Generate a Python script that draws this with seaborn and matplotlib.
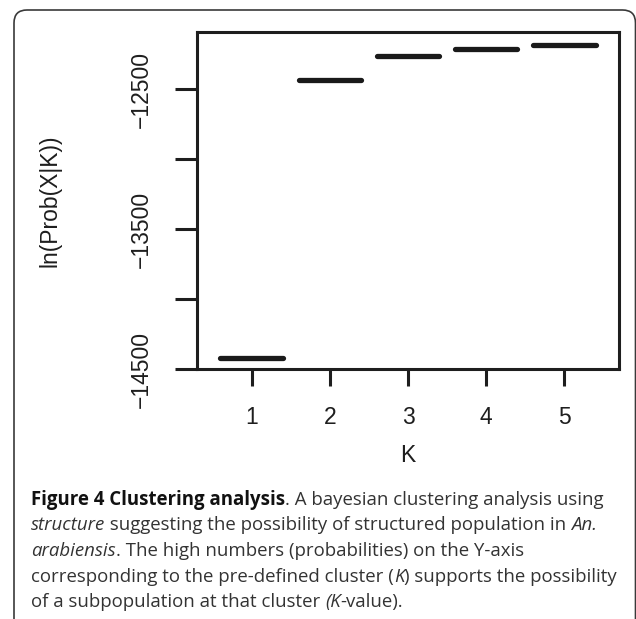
"""
Clustering analysis figure: ln(Prob(X|K)) for each K from a STRUCTURE run,
drawn as R-style boxplots (one value per K), with the figure caption below.
"""

import numpy as np
import pandas as pd
import matplotlib
matplotlib.use("Agg")
import matplotlib.pyplot as plt
from matplotlib.patches import FancyBboxPatch
from matplotlib.transforms import IdentityTransform
import seaborn as sns

# Data
k_values = ["1", "2", "3", "4", "5"]
ln_prob = [-14420, -12431, -12264, -12214, -12184]

y_ticks = [-14500, -14000, -13500, -13000, -12500]
y_tick_labels = ["\u221214500", "", "\u221213500", "", "\u221212500"]

caption_lines = [
    [("Figure 4 Clustering analysis", "bold"), (". A bayesian clustering analysis using", "normal")],
    [("structure", "italic"), (" suggesting the possibility of structured population in ", "normal"),
     ("An.", "italic")],
    [("arabiensis", "italic"), (". The high numbers (probabilities) on the Y-axis", "normal")],
    [("corresponding to the pre-defined cluster (", "normal"), ("K", "italic"),
     (") supports the possibility", "normal")],
    [("of a subpopulation at that cluster ", "normal"), ("(K", "italic"), ("-value).", "normal")],
]

W, H = 636, 619

sns.set_theme(style="white")
plt.rcParams["font.family"] = ["Liberation Sans", "DejaVu Sans"]

fig = plt.figure(figsize=(W / 100, H / 100), dpi=100)
fig.patch.set_facecolor("white")

# rounded frame around the whole figure (cut off at the bottom)
frame = FancyBboxPatch((14, -40), 621.5, H - 10 + 40,
                       boxstyle="round,pad=0,rounding_size=13",
                       transform=IdentityTransform(), fill=False,
                       edgecolor="#3a3a3a", linewidth=1.2)
fig.add_artist(frame)

ax = fig.add_axes([197 / W, 1 - 369 / H, 422 / W, 337 / H])

df = pd.DataFrame({"K": k_values, "lnprob": ln_prob})
sns.boxplot(data=df, x="K", y="lnprob", ax=ax, width=0.8,
            color="white", showfliers=False,
            boxprops=dict(linewidth=0),
            whiskerprops=dict(linewidth=0),
            capprops=dict(linewidth=0),
            medianprops=dict(color="#1a1a1a", linewidth=3.8, solid_capstyle="round"))

ax.set_xlim(-0.7, 4.7)
ax.set_ylim(-14500, -12091)
ax.set_yticks(y_ticks)
ax.set_yticklabels(y_tick_labels, rotation=90, va="center")

for side in ["left", "right", "top", "bottom"]:
    ax.spines[side].set_visible(True)
    ax.spines[side].set_linewidth(2.2)
    ax.spines[side].set_color("#1e1e1e")

ax.tick_params(axis="y", left=True, length=15.8, width=2.2, color="#1e1e1e",
               labelsize=16.5, pad=16, labelcolor="#1e1e1e")
ax.tick_params(axis="x", bottom=True, length=12.2, width=2.2, color="#1e1e1e",
               labelsize=16.5, pad=14.5, labelcolor="#1e1e1e")

ax.set_xlabel("K", fontsize=16.5, color="#1e1e1e")
ax.set_ylabel("ln(Prob(X|K))", fontsize=16.5, color="#1e1e1e")
ax.xaxis.set_label_coords(0.5, -0.222)
ax.yaxis.set_label_coords(-0.32, 0.5)

# caption, drawn run by run so bold / italic parts sit inline
renderer = fig.canvas.get_renderer()
baselines = [505, 530.5, 556, 581.5, 607]
for line, yb in zip(caption_lines, baselines):
    x = 31
    for txt, style in line:
        kw = dict(fontsize=13.4, family=["Open Sans", "DejaVu Sans"], va="baseline", ha="left")
        if style == "bold":
            kw.update(weight="bold", color="#111111")
        elif style == "italic":
            kw.update(style="italic", color="#333333")
        else:
            kw.update(color="#333333")
        t = fig.text(x / W, 1 - yb / H, txt, **kw)
        x += t.get_window_extent(renderer).width

fig.savefig("out.png", dpi=100)
